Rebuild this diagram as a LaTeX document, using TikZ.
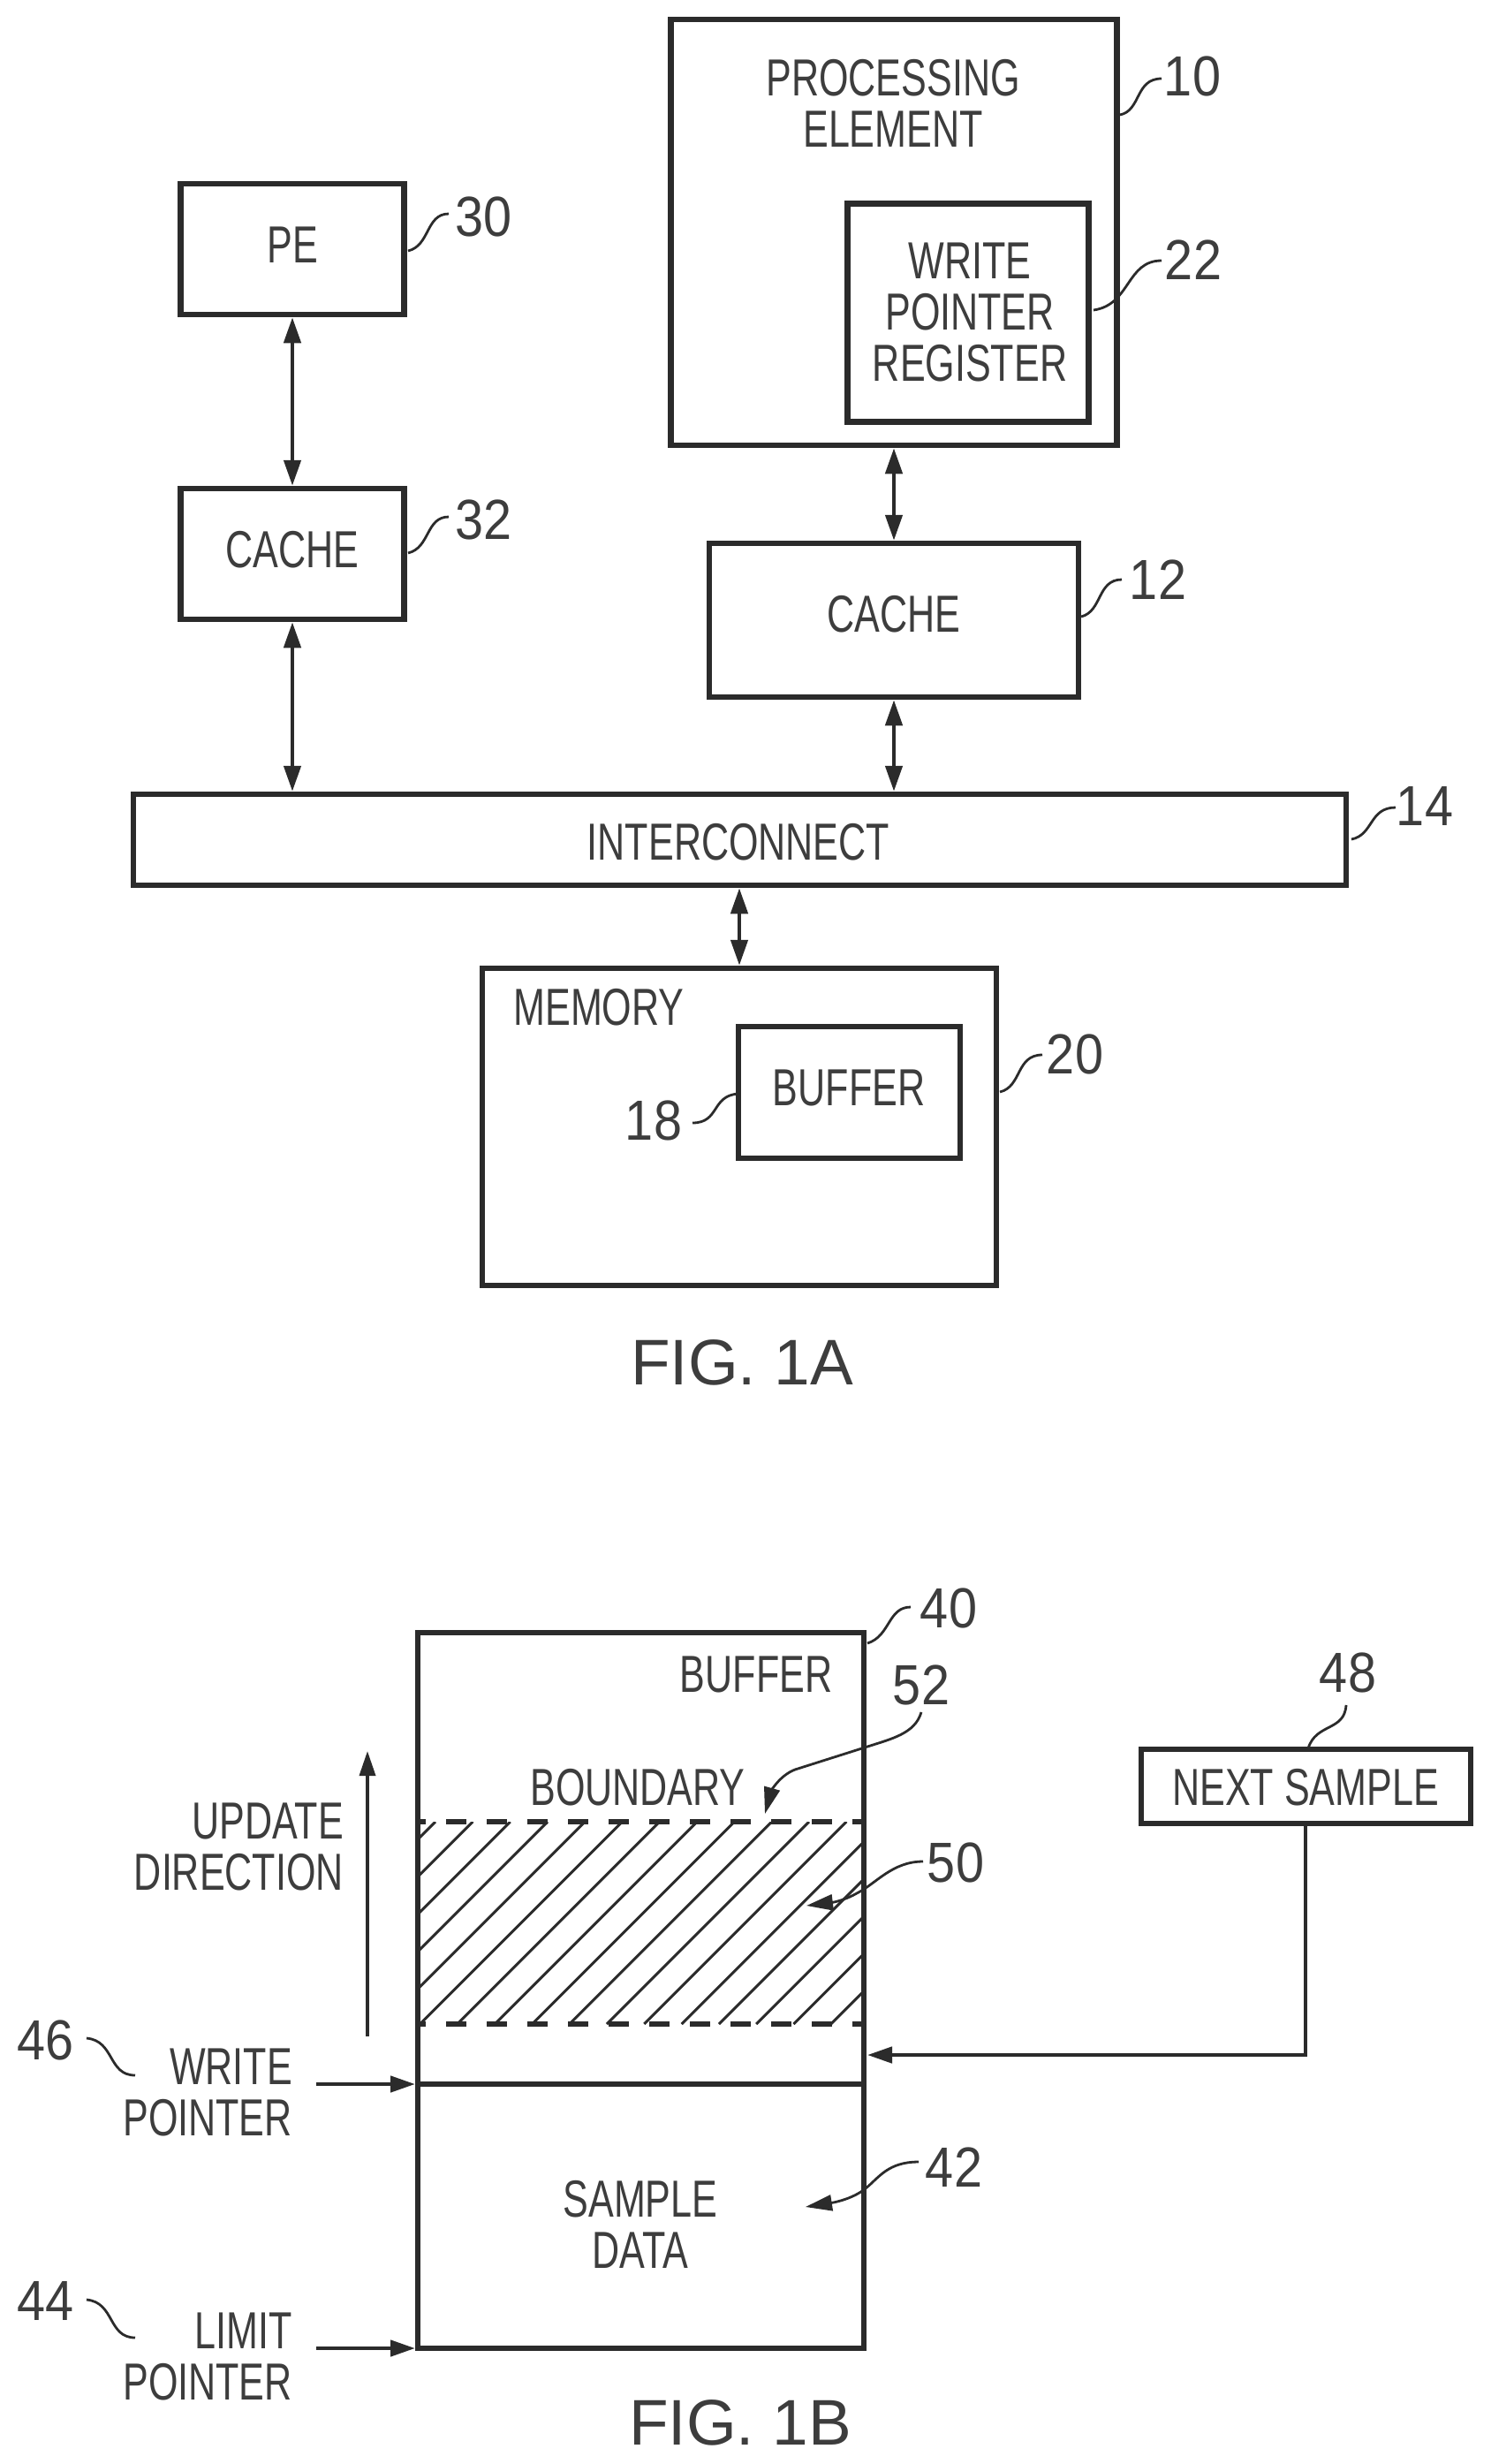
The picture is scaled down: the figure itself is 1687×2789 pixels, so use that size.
\documentclass[tikz,border=0pt]{standalone}
\usepackage{fontspec}
\setmainfont[FakeStretch=0.73]{Liberation Sans}
\newfontfamily\numfam[FakeStretch=0.9]{Liberation Sans}
\newfontfamily\figfam{Liberation Sans}
\usetikzlibrary{arrows.meta}
\definecolor{ink}{gray}{0.17}
\definecolor{txt}{gray}{0.24}
\tikzset{
  box/.style={draw=ink,line width=6.5pt,inner sep=0pt,anchor=center},
  thinbox/.style={draw=ink,line width=6pt,inner sep=0pt,anchor=center},
  lab/.style={text=txt,inner sep=0pt,align=center,font=\fontsize{59}{58}\selectfont},
  labr/.style={text=txt,inner sep=0pt,align=right,font=\fontsize{59}{58}\selectfont},
  num/.style={text=txt,inner sep=0pt,font=\numfam\fontsize{64}{64}\selectfont},
  figlab/.style={text=txt,inner sep=0pt,font=\figfam\fontsize{73}{73}\selectfont},
  dbl/.style={draw=ink,line width=4.5pt,{Triangle[width=19pt,length=29pt]}-{Triangle[width=19pt,length=29pt]}},
  one/.style={draw=ink,line width=4.5pt,-{Triangle[width=18pt,length=28pt]}},
  lead/.style={draw=ink,line width=2.8pt},
  leadarrow/.style={draw=ink,line width=2.8pt,-{Triangle[width=18pt,length=30pt]}},
  hatch/.style={draw=ink,line width=3pt},
  dashrule/.style={draw=ink,line width=5.5pt,dash pattern=on 23pt off 23pt,dash phase=11pt}
}
\begin{document}
\begin{tikzpicture}[x=1pt,y=-1pt]
\useasboundingbox[fill=white] (0,0) rectangle (1687,2789);
% ---- FIG 1A
\node[box,minimum width=505pt,minimum height=482pt] (pe) at (1012,263) {};
\node[lab] (pelab) at (1011,117) {PROCESSING\\ELEMENT};
\node[box,minimum width=273pt,minimum height=247pt] (wpr) at (1096,354) {};
\node[lab] (wprlab) at (1098,353) {WRITE\\POINTER\\REGISTER};
\node[box,minimum width=418pt,minimum height=174pt] (c12) at (1012,702) {};
\node[lab] (c12lab) at (1012,695) {CACHE};
\node[box,minimum width=1373pt,minimum height=103pt] (ic) at (837.5,950.5) {};
\node[lab] (iclab) at (836,953) {INTERCONNECT};
\node[box,minimum width=253pt,minimum height=148pt] (pe30) at (331,282) {};
\node[lab] (pe30lab) at (331,277) {PE};
\node[box,minimum width=253pt,minimum height=148pt] (c32) at (331,627) {};
\node[lab] (c32lab) at (331,622) {CACHE};
\node[box,minimum width=582pt,minimum height=359pt] (mem) at (837,1275.5) {};
\node[lab] (memlab) at (678,1140) {MEMORY};
\node[box,minimum width=251pt,minimum height=149pt] (buf) at (961.5,1236.5) {};
\node[lab] (buflab) at (961,1231) {BUFFER};
\node[figlab] (fa) at (840,1542) {FIG. 1A};
\node[num] (n10) at (1350,86) {10};
\node[num] (n22) at (1351,294) {22};
\node[num] (n12) at (1311,656) {12};
\node[num] (n14) at (1613,912) {14};
\node[num] (n30) at (548,245) {30};
\node[num] (n32) at (548,588) {32};
\node[num] (n18) at (740,1268) {18};
\node[num] (n20) at (1217,1193) {20};
\draw[dbl] (pe.south) -- (c12.north);
\draw[dbl] (c12.south) -- (c12.south |- ic.north);
\draw[dbl] (pe30.south) -- (c32.north);
\draw[dbl] (c32.south) -- (c32.south |- ic.north);
\draw[dbl] (ic.south -| mem.north) -- (mem.north);
\coordinate (s10) at (1268,130); \coordinate (e10) at (1315,89);
\coordinate (s22) at (1238,351); \coordinate (e22) at (1315,295);
\coordinate (s12) at (1224,698); \coordinate (e12) at (1270,656);
\coordinate (s14) at (1530,950); \coordinate (e14) at (1580,914);
\coordinate (s30) at (462,284);  \coordinate (e30) at (508,242);
\coordinate (s32) at (462,626);  \coordinate (e32) at (508,585);
\coordinate (s18) at (836,1238); \coordinate (e18) at (784,1271);
\coordinate (s20) at (1132,1236);\coordinate (e20) at (1180,1194);
\draw[lead] (s10) .. controls (1292,125) and (1285,89) .. (e10);
\draw[lead] (s22) .. controls (1280,345) and (1275,295) .. (e22);
\draw[lead] (s12) .. controls (1248,692) and (1242,656) .. (e12);
\draw[lead] (s14) .. controls (1555,945) and (1550,914) .. (e14);
\draw[lead] (s30) .. controls (487,278) and (482,242) .. (e30);
\draw[lead] (s32) .. controls (487,620) and (482,585) .. (e32);
\draw[lead] (s18) .. controls (805,1240) and (815,1271) .. (e18);
\draw[lead] (s20) .. controls (1157,1230) and (1150,1194) .. (e20);
% ---- FIG 1B
\begin{scope}
\clip (473,2062) rectangle (978,2291);
\foreach \k in {0,...,17} {
  \draw[hatch] ({493+42.3*\k-229},2291) -- ({493+42.3*\k},2062);
}
\end{scope}
\node[thinbox,minimum width=505pt,minimum height=810pt] (bb) at (725.5,2253) {};
\coordinate (dtl) at (bb.west |- 0,2062);
\coordinate (dtr) at (bb.east |- 0,2062);
\coordinate (dbl) at (bb.west |- 0,2291);
\coordinate (dbr) at (bb.east |- 0,2291);
\coordinate (wl) at (bb.west |- 0,2359);
\coordinate (wr) at (bb.east |- 0,2359);
\coordinate (ll) at (bb.west |- 0,2658);
\draw[dashrule] (dtl) -- (dtr);
\draw[dashrule] (dbl) -- (dbr);
\draw[draw=ink,line width=6.5pt] (wl) -- (wr);
\node[lab] (bufl2) at (856,1895) {BUFFER};
\node[lab] (bound) at (722,2023) {BOUNDARY};
\node[lab] (sd) at (725,2518) {SAMPLE\\DATA};
\node[labr,anchor=east] (ud) at (389,2090) {UPDATE\\DIRECTION};
\node[labr,anchor=east] (wp) at (331,2368) {WRITE\\POINTER};
\node[labr,anchor=east] (lp) at (331,2667) {LIMIT\\POINTER};
\node[thinbox,minimum width=373pt,minimum height=84pt] (ns) at (1478,2022) {};
\node[lab] (nslab) at (1478,2023) {NEXT SAMPLE};
\node[figlab] (fb) at (838,2742) {FIG. 1B};
\node[num] (n40) at (1074,1820) {40};
\node[num] (n52) at (1043,1907) {52};
\node[num] (n50) at (1082,2108) {50};
\node[num] (n42) at (1080,2453) {42};
\node[num] (n48) at (1526,1893) {48};
\node[num] (n46) at (52,2309) {46};
\node[num] (n44) at (52,2604) {44};
\coordinate (udb) at (416,2305);
\coordinate (udt) at (416,1982);
\draw[one,line width=3.5pt] (udb) -- (udt);
\coordinate (wa) at (358,2359);
\coordinate (la) at (358,2658);
\draw[one] (wa) -- (wl);
\draw[one] (la) -- (ll);
\coordinate (nsin) at (982,2326);
\draw[one] (ns.south) |- (nsin);
\coordinate (s40) at (982,1860); \coordinate (e40) at (1031,1819);
\draw[lead] (s40) .. controls (1008,1852) and (1005,1819) .. (e40);
\coordinate (s52) at (1043,1938); \coordinate (m52) at (982,1977); \coordinate (n52b) at (900,2003); \coordinate (t52) at (866,2053);
\draw[leadarrow] (s52) .. controls (1036,1962) and (1010,1968) .. (m52) -- (n52b) .. controls (882,2010) and (873,2028) .. (t52);
\coordinate (s50) at (1045,2107); \coordinate (m50) at (970,2143); \coordinate (t50) at (913,2157);
\draw[leadarrow] (s50) .. controls (1010,2107) and (992,2132) .. (m50) .. controls (958,2150) and (945,2153) .. (t50);
\coordinate (s42) at (1040,2447); \coordinate (m42) at (980,2477); \coordinate (t42) at (912,2498);
\draw[leadarrow] (s42) .. controls (1005,2447) and (995,2465) .. (m42) .. controls (968,2487) and (950,2492) .. (t42);
\coordinate (s48) at (1524,1930); \coordinate (e48) at (1481,1979);
\draw[lead] (s48) .. controls (1522,1960) and (1490,1950) .. (e48);
\coordinate (s46) at (98,2307); \coordinate (e46) at (153,2349);
\draw[lead] (s46) .. controls (130,2310) and (122,2349) .. (e46);
\coordinate (s44) at (98,2603); \coordinate (e44) at (153,2646);
\draw[lead] (s44) .. controls (130,2606) and (122,2646) .. (e44);
\end{tikzpicture}
\end{document}
